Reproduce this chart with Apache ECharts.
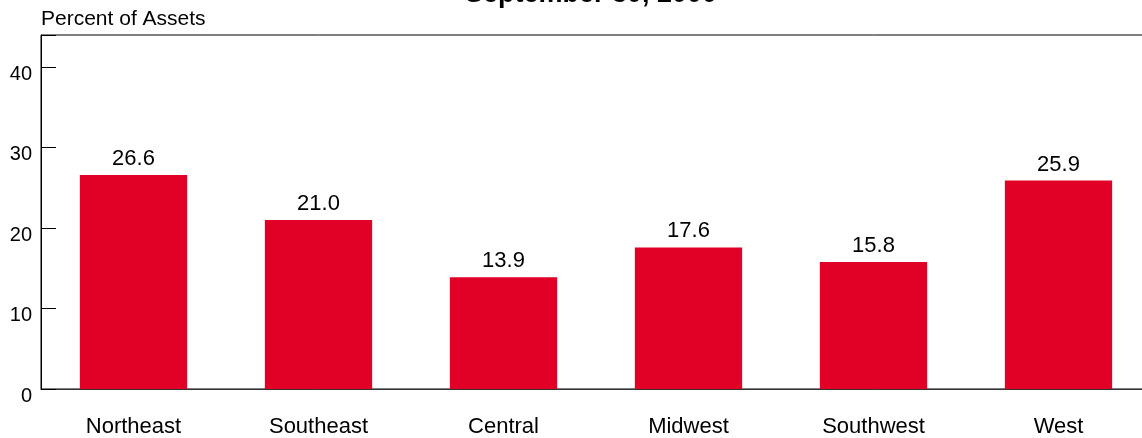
<!DOCTYPE html>
<html><head><meta charset="utf-8">
<script src="https://cdn.jsdelivr.net/npm/echarts@6/dist/echarts.min.js"></script>
<style>html,body{margin:0;padding:0;background:#fff;overflow:hidden;width:1142px;height:438px}#c{width:1152px;height:438px}</style>
</head><body><div id="c"></div>
<script>
const categories = ["Northeast","Southeast","Central","Midwest","Southwest","West"];
const values = [26.6, 21.0, 13.9, 17.6, 15.8, 25.9];
const yTicks = [0, 10, 20, 30, 40];
const titleText = "September 30, 2000";
const yAxisTitle = "Percent of Assets";

const chart = echarts.init(document.getElementById('c'), null, {renderer:'canvas'});
const FONT = 'Liberation Sans, Arial, sans-serif';
chart.setOption({
  animation:false,
  graphic:[
    {type:'text', x:591, y:-5, style:{text:titleText, font:'bold 27px '+FONT, fill:'#000', textAlign:'center', textVerticalAlign:'middle'}},
    {type:'text', x:41, y:19, style:{text:yAxisTitle, font:'21px '+FONT, fill:'#000', textAlign:'left', textVerticalAlign:'middle'}}
  ],
  grid:{left:41, right:1, top:35, bottom:48, show:true, borderColor:'#000', borderWidth:1, backgroundColor:'transparent'},
  xAxis:{type:'category', data:categories,
    axisLine:{lineStyle:{color:'#333'}}, axisTick:{show:false},
    axisLabel:{fontFamily:FONT, fontSize:22, color:'#000', margin:27}},
  yAxis:{type:'value', min:0, max:44, interval:10,
    axisLine:{show:true, lineStyle:{color:'#000'}},
    axisTick:{show:true, inside:true, length:15, lineStyle:{color:'#000'}},
    splitLine:{show:false},
    axisLabel:{fontFamily:FONT, fontSize:20, color:'#000', margin:9,
      formatter:v=> yTicks.includes(v)? String(v):'' , verticalAlign:'top', padding:[-3,0,0,0]}},
  series:[{type:'bar', data:values, barWidth:'58%', itemStyle:{color:'#E10026'},
    label:{show:true, position:'top', distance:5, fontFamily:FONT, fontSize:22, color:'#000',
      formatter:p=>p.value.toFixed(1)}}]
});
</script></body></html>
